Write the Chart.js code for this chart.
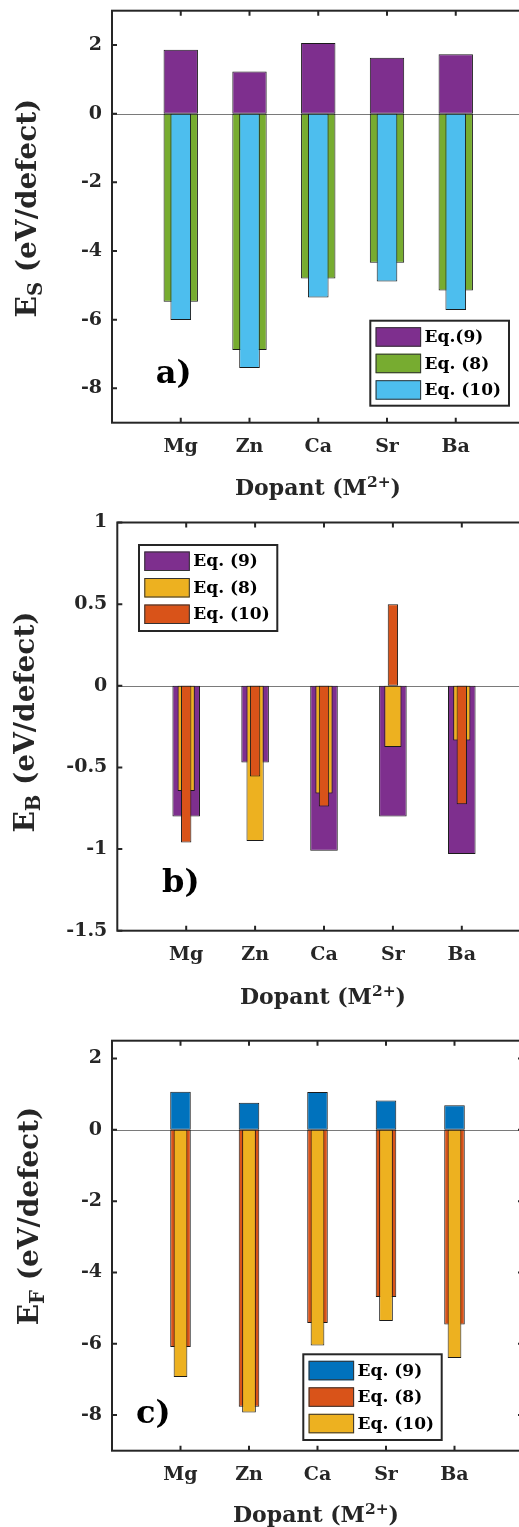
<!DOCTYPE html>
<html><head><meta charset="utf-8">
<script src="https://cdn.jsdelivr.net/npm/chart.js@4"></script>
<style>
html,body{margin:0;padding:0;background:#fff;}
#wrap{position:relative;width:519px;height:1527px;overflow:hidden;background:#fff;}
canvas{position:absolute;left:0;}
.t{position:absolute;font-family:"DejaVu Serif",serif;font-weight:bold;color:#262626;white-space:nowrap;}
.xt{font-size:22px;line-height:22px;width:300px;text-align:center;}
.yt{font-size:28px;line-height:28px;width:320px;height:28px;text-align:center;transform:rotate(-90deg);}
.pl{font-size:32px;line-height:32px;color:#000;}
sub{font-size:0.7em;line-height:0;vertical-align:-0.3em;}
sup{font-size:0.7em;line-height:0;vertical-align:0.5em;}
</style></head><body>
<div id="wrap">
<canvas id="ca" width="540" height="500" style="top:0px"></canvas>
<canvas id="cb" width="540" height="510" style="top:500px"></canvas>
<canvas id="cc" width="540" height="517" style="top:1010px"></canvas>

<div class="t yt" style="left:-132.7px;top:194px">E<sub>S</sub> (eV/defect)</div>
<div class="t yt" style="left:-134.7px;top:708px">E<sub>B</sub> (eV/defect)</div>
<div class="t yt" style="left:-130.7px;top:1202px">E<sub>F</sub> (eV/defect)</div>

<div class="t xt" style="left:168px;top:476.4px">Dopant (M<sup>2+</sup>)</div>
<div class="t xt" style="left:173px;top:984.7px">Dopant (M<sup>2+</sup>)</div>
<div class="t xt" style="left:166px;top:1503px">Dopant (M<sup>2+</sup>)</div>

<div class="t pl" style="left:155.7px;top:356px">a)</div>
<div class="t pl" style="left:162px;top:864.6px">b)</div>
<div class="t pl" style="left:136px;top:1396px">c)</div>
</div>
<script>
// ---------- data ----------
const categories = ['Mg', 'Zn', 'Ca', 'Sr', 'Ba'];
const categoryPositions = [1, 2, 3, 4, 5];

// a) E_S
const seriesLabelsA = ['Eq.(9)', 'Eq. (8)', 'Eq. (10)'];
const esEq9  = [1.86, 1.23, 2.06, 1.63, 1.73];
const esEq8  = [-5.48, -6.88, -4.80, -4.34, -5.15];
const esEq10 = [-6.01, -7.41, -5.35, -4.89, -5.72];
const yTicksA = [-8, -6, -4, -2, 0, 2];
const yTickLabelsA = ['-8', '-6', '-4', '-2', '0', '2'];

// b) E_B
const seriesLabelsB = ['Eq. (9)', 'Eq. (8)', 'Eq. (10)'];
const ebEq9  = [-0.80, -0.47, -1.01, -0.80, -1.03];
const ebEq8  = [-0.645, -0.95, -0.66, -0.375, -0.335];
const ebEq10 = [-0.96, -0.555, -0.74, 0.50, -0.725];
const yTicksB = [-1.5, -1, -0.5, 0, 0.5, 1];
const yTickLabelsB = ['-1.5', '-1', '-0.5', '0', '0.5', '1'];

// c) E_F
const seriesLabelsC = ['Eq. (9)', 'Eq. (8)', 'Eq. (10)'];
const efEq9  = [1.07, 0.76, 1.06, 0.82, 0.69];
const efEq8  = [-6.09, -7.77, -5.42, -4.69, -5.46];
const efEq10 = [-6.93, -7.93, -6.05, -5.36, -6.40];
const yTicksC = [-8, -6, -4, -2, 0, 2];
const yTickLabelsC = ['-8', '-6', '-4', '-2', '0', '2'];

// ---------- styling ----------
const C_PURPLE = '#7E2F8E', C_GREEN = '#77AC30', C_LBLUE = '#4DBEEE',
      C_YELLOW = '#EDB120', C_ORANGE = '#D95319', C_BLUE = '#0072BD';
const AXIS = '#262626';
const FONT = '"DejaVu Serif", serif';

const framePlugin = {
  id: 'frame',
  beforeDatasetsDraw(chart) {
    const {ctx, chartArea: a, scales: {y}} = chart;
    const y0 = y.getPixelForValue(0);
    ctx.save();
    ctx.strokeStyle = '#7a7a7a';
    ctx.lineWidth = 1;
    ctx.beginPath();
    ctx.moveTo(a.left, Math.round(y0) + 0.5);
    ctx.lineTo(a.right, Math.round(y0) + 0.5);
    ctx.stroke();
    ctx.restore();
  },
  afterDatasetsDraw(chart) {
    const {ctx, chartArea: a, scales: {x, y}} = chart;
    ctx.save();
    ctx.strokeStyle = AXIS;
    ctx.lineWidth = 2;
    ctx.strokeRect(a.left, a.top, a.right - a.left, a.bottom - a.top);
    const L = 5;
    ctx.beginPath();
    x.ticks.forEach(t => {
      const px = x.getPixelForValue(t.value);
      ctx.moveTo(px, a.bottom); ctx.lineTo(px, a.bottom - L);
      ctx.moveTo(px, a.top); ctx.lineTo(px, a.top + L);
    });
    y.ticks.forEach(t => {
      const py = y.getPixelForValue(t.value);
      ctx.moveTo(a.left, py); ctx.lineTo(a.left + L, py);
      ctx.moveTo(a.right, py); ctx.lineTo(a.right - L, py);
    });
    ctx.stroke();
    ctx.restore();
  },
  afterDraw(chart) {
    const o = chart.options.plugins.boxLegend;
    if (!o) return;
    const {ctx} = chart;
    ctx.save();
    ctx.fillStyle = '#fff';
    ctx.fillRect(o.left, o.top, o.width, o.height);
    ctx.strokeStyle = AXIS;
    ctx.lineWidth = 2;
    ctx.strokeRect(o.left, o.top, o.width, o.height);
    ctx.font = 'bold 17px ' + FONT;
    ctx.textBaseline = 'middle';
    ctx.textAlign = 'left';
    chart.data.datasets.forEach((ds, i) => {
      const sx = o.left + 5.3, sy = o.top + 6.5 + i * 26.5;
      ctx.fillStyle = ds.backgroundColor;
      ctx.fillRect(sx, sy, 45.5, 19.5);
      ctx.strokeStyle = '#333';
      ctx.lineWidth = 1;
      ctx.strokeRect(sx + 0.5, sy + 0.5, 44.5, 18.5);
      ctx.fillStyle = '#000';
      ctx.fillText(ds.label, sx + 49, sy + 10.5);
    });
    ctx.restore();
  }
};

function barSet(label, values, color, pct, order) {
  return {
    label,
    data: categoryPositions.map((x, i) => ({x, y: values[i]})),
    backgroundColor: color,
    borderColor: '#1a1a1a',
    borderWidth: 1,
    borderSkipped: false,
    barPercentage: pct,
    categoryPercentage: 1,
    grouped: false,
    order
  };
}

function makePanel(id, p) {
  const canvas = document.getElementById(id);
  const H = canvas.height, W = canvas.width;
  new Chart(canvas, {
    type: 'bar',
    data: {datasets: p.datasets},
    plugins: [framePlugin],
    options: {
      responsive: false,
      animation: false,
      events: [],
      layout: {padding: {left: 0, top: p.top, right: W - p.right, bottom: 0}},
      plugins: {legend: {display: false}, tooltip: {enabled: false}, boxLegend: p.legend},
      scales: {
        x: {
          type: 'linear', min: 0, max: 6, offset: false,
          grid: {display: false, drawTicks: false, offset: false},
          border: {display: false},
          afterBuildTicks(s) { s.ticks = categoryPositions.map(v => ({value: v})); },
          afterFit(s) { s.height = H - p.bottom; s.paddingLeft = 0; s.paddingRight = 0; },
          ticks: {
            padding: 13, color: AXIS, maxRotation: 0, autoSkip: false,
            font: {family: FONT, weight: 'bold', size: 19},
            callback: (v) => categories[categoryPositions.indexOf(v)]
          }
        },
        y: {
          type: 'linear', min: p.min, max: p.max,
          grid: {display: false, drawTicks: false},
          border: {display: false},
          afterBuildTicks(s) { s.ticks = p.yTicks.map(v => ({value: v})); },
          afterFit(s) { s.width = p.left; s.paddingTop = 0; s.paddingBottom = 0; },
          ticks: {
            padding: 10, color: AXIS, autoSkip: false,
            font: {family: FONT, weight: 'bold', size: 19},
            callback: (v) => p.yLabels[p.yTicks.indexOf(v)]
          }
        }
      }
    }
  });
}

makePanel('ca', {
  left: 112, right: 524.5, top: 10.7, bottom: 422.7, min: -9, max: 3,
  yTicks: yTicksA, yLabels: yTickLabelsA,
  legend: {left: 370.3, top: 320.7, width: 138.7, height: 85},
  datasets: [
    barSet(seriesLabelsA[0], esEq9, C_PURPLE, 0.5, 3),
    barSet(seriesLabelsA[1], esEq8, C_GREEN, 0.5, 2),
    barSet(seriesLabelsA[2], esEq10, C_LBLUE, 0.3, 1)
  ]
});

makePanel('cb', {
  left: 117.3, right: 530.7, top: 22.5, bottom: 430.7, min: -1.5, max: 1,
  yTicks: yTicksB, yLabels: yTickLabelsB,
  legend: {left: 139, top: 45, width: 138.3, height: 86},
  datasets: [
    barSet(seriesLabelsB[0], ebEq9, C_PURPLE, 0.4, 3),
    barSet(seriesLabelsB[1], ebEq8, C_YELLOW, 0.25, 2),
    barSet(seriesLabelsB[2], ebEq10, C_ORANGE, 0.15, 1)
  ]
});

makePanel('cc', {
  left: 112, right: 523, top: 30.7, bottom: 440.7, min: -9, max: 2.5,
  yTicks: yTicksC, yLabels: yTickLabelsC,
  legend: {left: 303.3, top: 344.3, width: 138.4, height: 85.7},
  datasets: [
    barSet(seriesLabelsC[0], efEq9, C_BLUE, 0.3, 3),
    barSet(seriesLabelsC[1], efEq8, C_ORANGE, 0.3, 2),
    barSet(seriesLabelsC[2], efEq10, C_YELLOW, 0.2, 1)
  ]
});
</script>
</body></html>
